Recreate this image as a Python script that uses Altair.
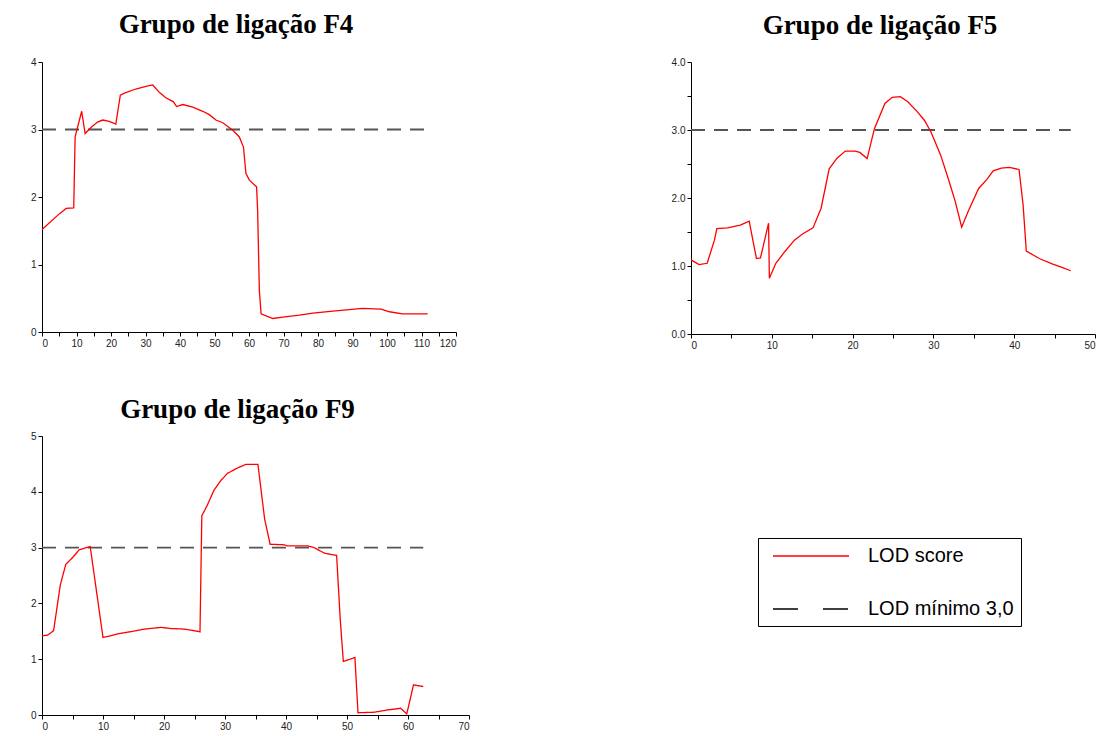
import altair as alt
import pandas as pd

# ---------------- data ----------------
F4_X = [0, 5.0, 7.0, 9.2, 9.6, 11.5, 12.5, 14.2, 16.1, 17.6, 19.5, 21.4, 22.7, 23.9, 27.2,
        30.1, 32.1, 34.0, 35.9, 38.1, 39.0, 40.8, 43.7, 46.6, 48.5, 50.4, 52.4, 55.3, 57.2,
        58.4, 59.1, 60.1, 62.2, 62.5, 63.0, 63.5, 66.9, 69.8, 74.6, 78.5, 84.3, 89.1, 92.9,
        98.3, 100.7, 104.5, 111.8]
F4_Y = [1.52, 1.75, 1.83, 1.84, 2.89, 3.27, 2.94, 3.03, 3.11, 3.14, 3.12, 3.08, 3.51, 3.54, 3.60,
        3.64, 3.66, 3.55, 3.47, 3.41, 3.34, 3.37, 3.33, 3.27, 3.22, 3.14, 3.10, 2.99, 2.89,
        2.74, 2.35, 2.25, 2.15, 1.80, 0.62, 0.27, 0.20, 0.22, 0.25, 0.28, 0.31, 0.33, 0.35,
        0.34, 0.30, 0.27, 0.27]

F5_X = [0, 1.0, 2.0, 2.9, 3.2, 4.5, 6.1, 7.2, 8.1, 8.6, 9.6, 9.7, 10.5, 11.6, 12.8, 13.8, 15.1,
        16.1, 17.1, 18.1, 19.1, 20.3, 20.9, 21.8, 22.7, 24.0, 24.9, 25.9, 26.8, 28.0, 28.9,
        29.7, 30.9, 31.9, 32.7, 33.5, 34.3, 35.6, 36.6, 37.4, 38.4, 39.4, 40.6, 41.1, 41.5,
        43.1, 44.7, 45.9, 47.0]
F5_Y = [1.09, 1.02, 1.04, 1.38, 1.55, 1.56, 1.60, 1.66, 1.11, 1.12, 1.63, 0.82, 1.04, 1.21, 1.38,
        1.47, 1.56, 1.85, 2.43, 2.59, 2.69, 2.69, 2.67, 2.58, 3.02, 3.39, 3.48, 3.49, 3.42,
        3.27, 3.14, 2.97, 2.63, 2.26, 1.95, 1.57, 1.80, 2.14, 2.27, 2.40, 2.44, 2.45, 2.42,
        1.90, 1.22, 1.11, 1.03, 0.98, 0.93]

F9_X = [0, 0.9, 1.9, 3.0, 3.9, 5.0, 6.1, 7.9, 10.0, 11.3, 12.7, 14.9, 16.8, 19.5, 21.1, 23.3,
        25.0, 25.9, 26.2, 27.1, 28.2, 29.3, 30.4, 32.1, 33.4, 35.4, 36.5, 37.4, 39.7, 40.3,
        43.5, 44.6, 46.3, 48.3, 48.9, 49.4, 51.3, 51.8, 54.5, 56.6, 58.8, 59.8, 60.9, 62.5]
F9_Y = [1.42, 1.43, 1.51, 2.33, 2.70, 2.82, 2.96, 3.02, 1.39, 1.42, 1.46, 1.50, 1.54, 1.57, 1.55,
        1.54, 1.51, 1.49, 3.57, 3.76, 4.03, 4.20, 4.33, 4.43, 4.49, 4.49, 3.51, 3.06, 3.05,
        3.03, 3.03, 3.00, 2.90, 2.86, 1.70, 0.96, 1.03, 0.04, 0.05, 0.09, 0.12, 0.02, 0.54,
        0.51]

SERIES = ["LOD score", "LOD mínimo 3,0"]
THRESHOLD = 3.0

TITLE_FONT = "Liberation Serif"
LABEL_FONT = "Liberation Sans"


def make_panel(xs, ys, title, xmax, ymax, w, h, yfmt, dx, offset, legend=None):
    line_df = pd.DataFrame({"cM": xs, "LOD": ys, "serie": SERIES[0]})
    thr_df = pd.DataFrame({"cM": [0, xs[-1]], "LOD": [THRESHOLD, THRESHOLD]})

    xsc = alt.Scale(domain=[0, xmax], nice=False, zero=True)
    ysc = alt.Scale(domain=[0, ymax], nice=False, zero=True)
    xax = alt.Axis(values=list(range(0, xmax + 1, 5)),
                   labelExpr="datum.value % 10 == 0 ? datum.label : ''",
                   format="d", title=None, grid=False)
    yax = alt.Axis(values=[i * 0.5 for i in range(int(ymax * 2) + 1)],
                   labelExpr="datum.value % 1 == 0 ? datum.label : ''",
                   format=yfmt, title=None, grid=False)
    x = alt.X("cM:Q", scale=xsc, axis=xax)
    y = alt.Y("LOD:Q", scale=ysc, axis=yax)

    if legend is not None:
        lod = alt.Chart(line_df).mark_line(strokeWidth=1.3).encode(
            x=x, y=y,
            color=alt.Color("serie:N",
                            scale=alt.Scale(domain=SERIES, range=["#ff0000", "#000000"]),
                            legend=legend),
            strokeDash=alt.StrokeDash("serie:N",
                                      scale=alt.Scale(domain=SERIES, range=[[1, 0], [25, 25]]),
                                      legend=legend),
        )
    else:
        lod = alt.Chart(line_df).mark_line(strokeWidth=1.3, color="#ff0000").encode(x=x, y=y)

    thr = alt.Chart(thr_df).mark_line(color="#555555", strokeDash=[14, 9],
                                      strokeWidth=1.8).encode(x=x, y=y)

    return alt.layer(thr, lod).properties(
        width=w, height=h,
        title=alt.TitleParams(text=title, font=TITLE_FONT, fontSize=27,
                              fontWeight="bold", color="black", anchor="middle",
                              frame="group", dx=dx, offset=offset),
    )


legend = alt.Legend(title=None, orient="none", legendX=716, legendY=102,
                    symbolType="M-0.3,0H7.3", symbolSize=400, symbolStrokeWidth=1.5,
                    labelFont=LABEL_FONT, labelFontSize=20, labelColor="black",
                    labelOffset=81, labelLimit=400, rowPadding=32, padding=7,
                    strokeColor="black", fillColor="white", direction="vertical")

f4 = make_panel(F4_X, F4_Y, "Grupo de ligação F4", 120, 4, 414, 270, "d", -13, 18)
f5 = make_panel(F5_X, F5_Y, "Grupo de ligação F5", 50, 4, 404, 272, ".1f", -13, 17)
f9 = make_panel(F9_X, F9_Y, "Grupo de ligação F9", 70, 5, 427, 279, "d", -18, 7,
                legend=legend)

top = alt.hconcat(f4, f5, spacing=214)
chart = alt.vconcat(top, f9, spacing=46).resolve_scale(
    color="independent", strokeDash="independent"
).properties(
    padding={"left": 30, "top": 11, "right": 0, "bottom": 0},
    background="white",
).configure_view(
    strokeWidth=0
).configure_axis(
    domainColor="#000000", tickColor="#000000", labelColor="#222222",
    labelFont=LABEL_FONT, labelFontSize=10, tickSize=4, labelPadding=2,
    domainWidth=1, tickWidth=1
)

chart.save("out.html", embed_options={"renderer": "svg", "actions": False})
